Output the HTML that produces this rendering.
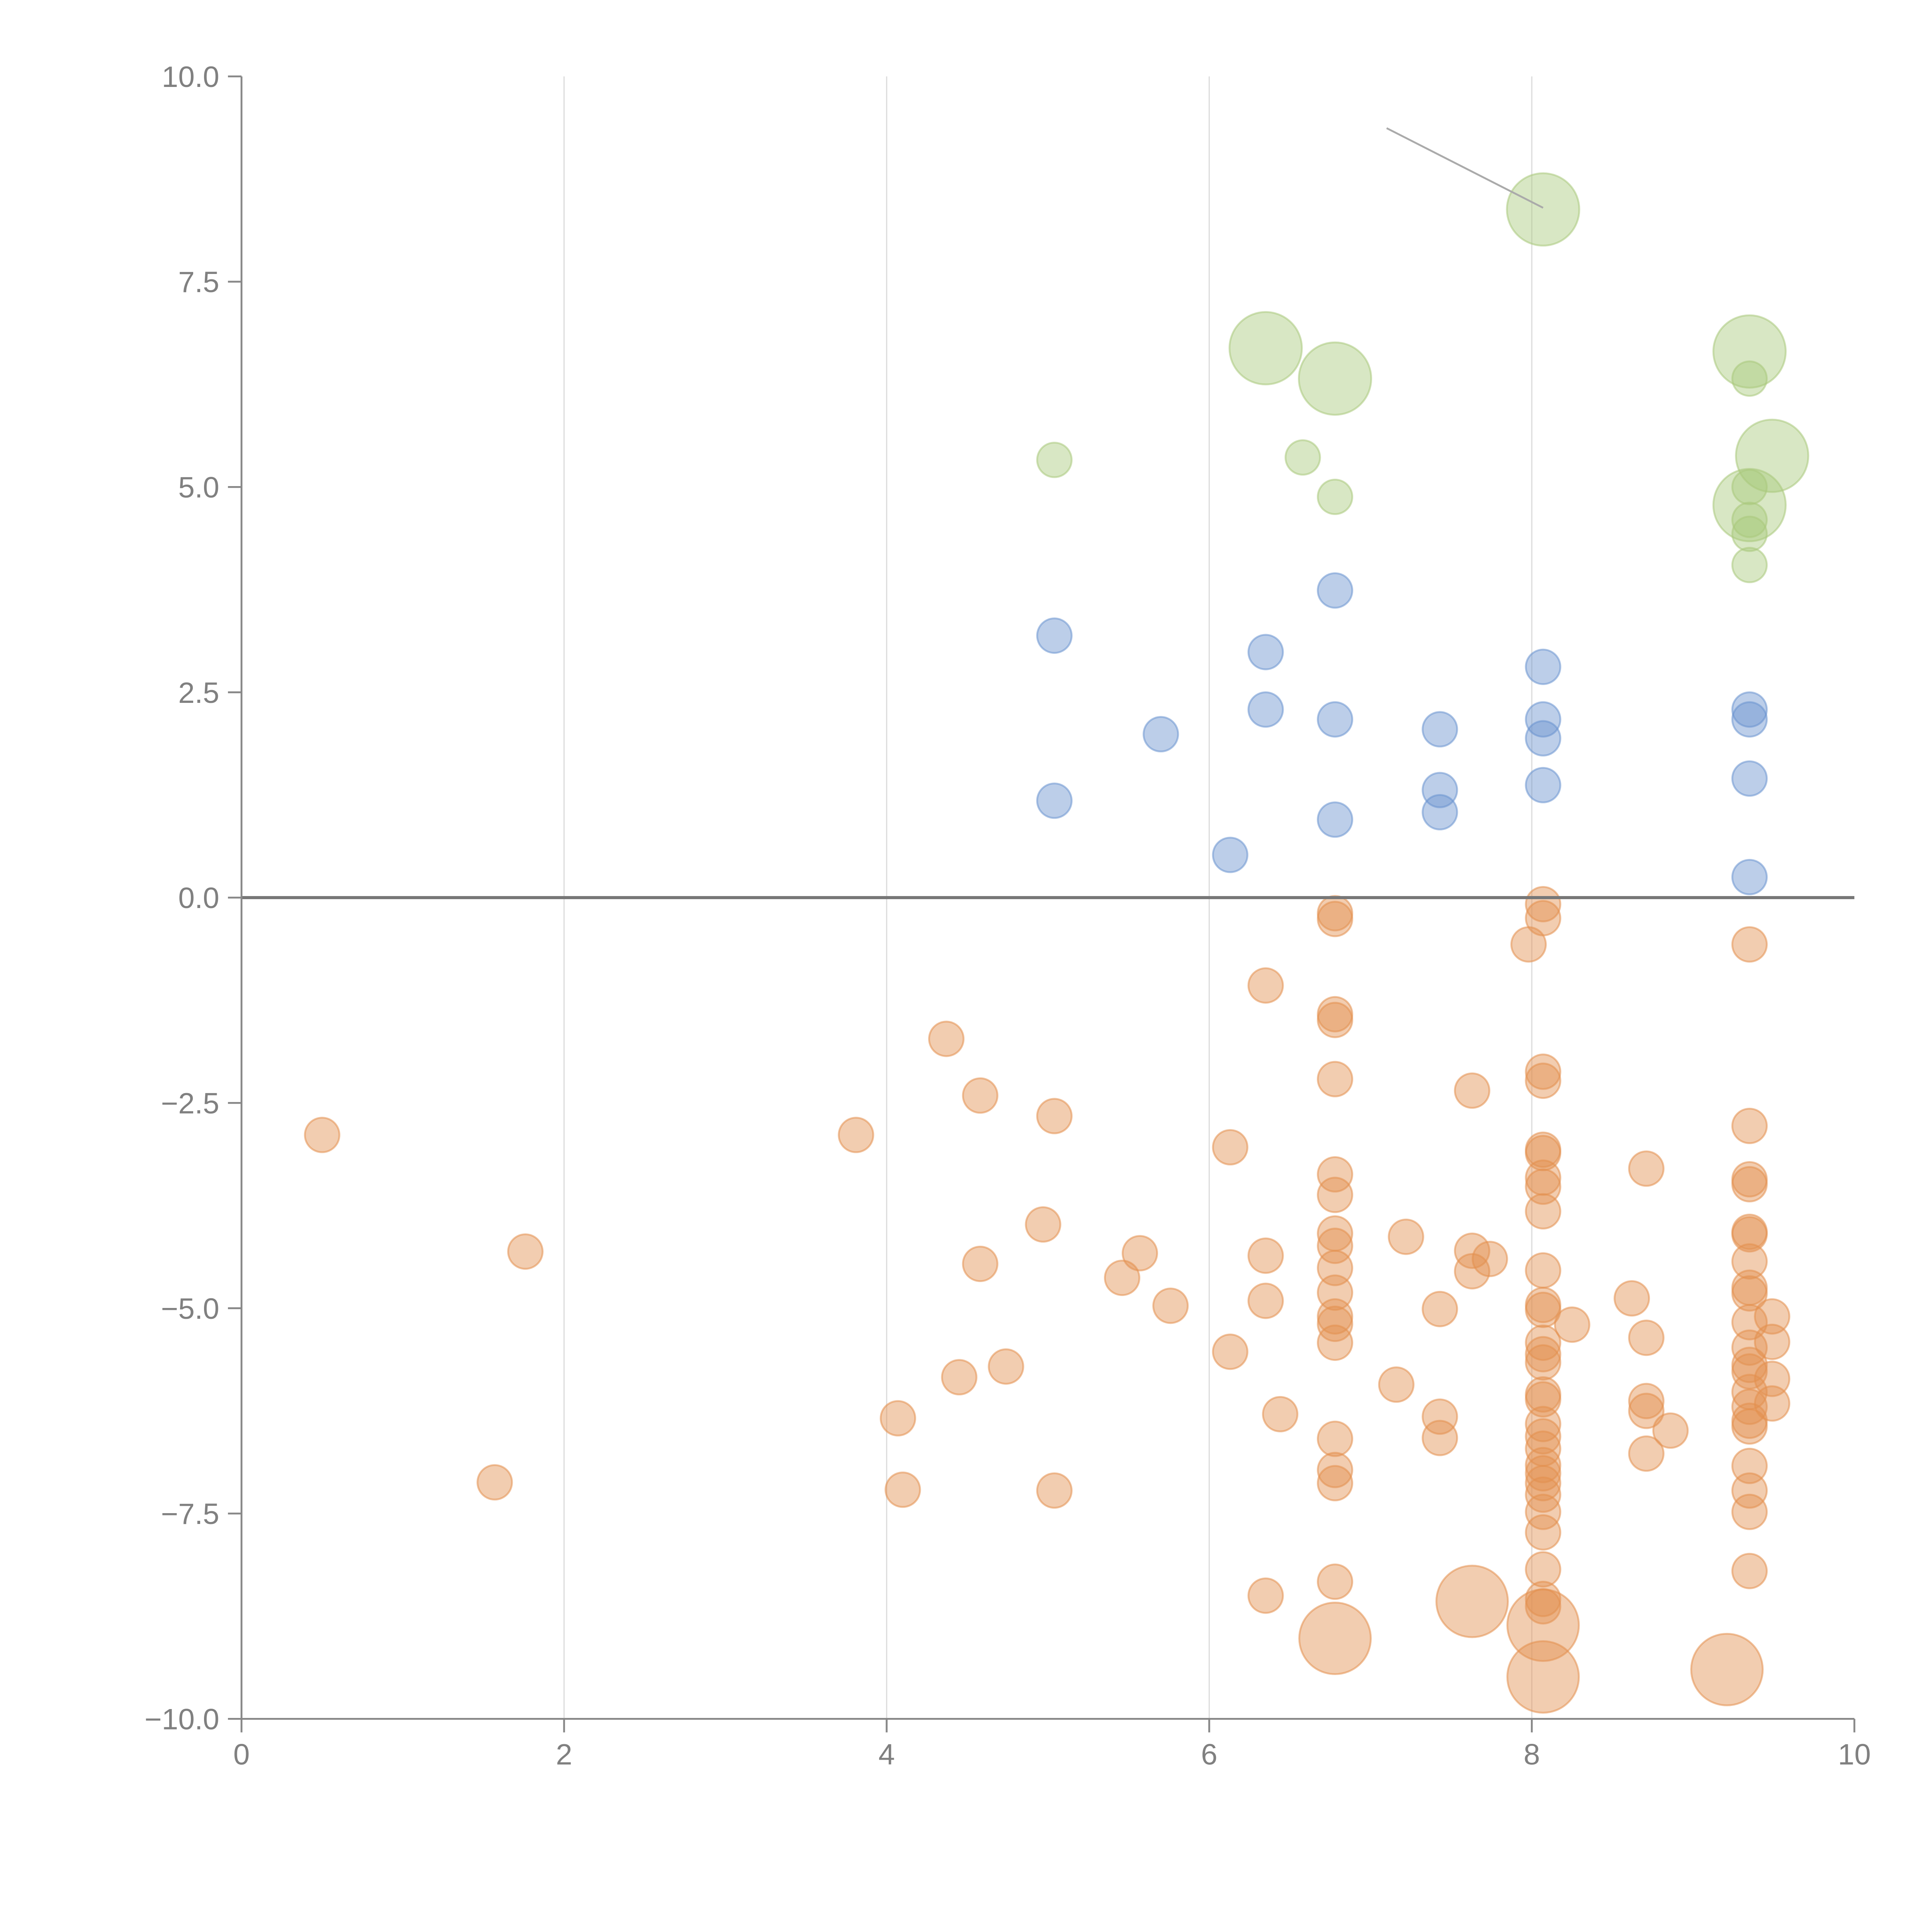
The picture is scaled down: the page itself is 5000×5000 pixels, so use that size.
<!DOCTYPE html>
<html><head><meta charset="utf-8"><style>html,body{margin:0;padding:0;background:#fff}svg{display:block}</style></head>
<body>
<svg id="chart" width="5000" height="5000" viewBox="0 0 1568 1568" xmlns="http://www.w3.org/2000/svg" font-family="Liberation Sans, sans-serif">
<g id="grid"></g>
<g id="marks"></g>
<g id="axes"></g>
</svg>
<script>
const xTicks = [0, 2, 4, 6, 8, 10];
const yTicks = [-10, -7.5, -5, -2.5, 0, 2.5, 5, 7.5, 10];
const yTickLabels = ["\u221210.0", "\u22127.5", "\u22125.0", "\u22122.5", "0.0", "2.5", "5.0", "7.5", "10.0"];

const greenX = [8.07, 6.35, 6.78, 9.35, 9.35, 9.49, 9.35, 9.35, 9.35, 9.35, 9.35, 5.04, 6.58, 6.78];
const greenY = [8.38, 6.69, 6.32, 6.65, 6.32, 5.38, 4.78, 5.0, 4.6, 4.43, 4.05, 5.33, 5.36, 4.88];
const greenS = [4.4, 4.4, 4.4, 4.4, 1, 4.4, 4.4, 1, 1, 1, 1, 1, 1, 1];

const blueX = [6.78, 5.04, 6.35, 8.07, 6.35, 6.78, 8.07, 9.35, 9.35, 5.70, 7.43, 8.07, 7.43, 7.43, 8.07, 9.35, 5.04, 6.78, 6.13, 9.35];
const blueY = [3.74, 3.19, 2.99, 2.81, 2.29, 2.17, 2.17, 2.29, 2.17, 1.99, 2.05, 1.94, 1.31, 1.04, 1.37, 1.45, 1.18, 0.95, 0.52, 0.25];

const orangeX = [
 6.78,6.78,6.78,6.78,6.78,6.78,6.78,6.78,6.78,6.78,6.78,6.78,6.78,6.78,6.78,6.78,6.78,6.78,6.78,
 8.07,8.07,8.07,8.07,8.07,8.07,8.07,8.07,8.07,8.07,8.07,8.07,8.07,8.07,8.07,8.07,8.07,8.07,8.07,8.07,8.07,8.07,8.07,8.07,8.07,8.07,8.07,8.07,8.07,8.07,8.07,
 7.98,
 9.35,9.35,9.35,9.35,9.35,9.35,9.35,9.35,9.35,9.35,9.35,9.35,9.35,9.35,9.35,9.35,9.35,9.35,9.35,9.35,9.35,
 9.49,9.49,9.49,9.49, 9.21, 7.63,
 6.35,6.35,6.35,6.35, 7.43,7.43,7.43, 7.63,7.63,7.63, 7.74,
 7.22,7.16,6.44,6.13,6.13,8.25,8.62,
 8.71,8.71,8.71,8.71,8.71,8.86,
 5.04,5.04,4.97,4.37,4.58,4.58,3.81,5.57,5.46,5.76,4.74,4.45,4.07,4.10,0.50,1.76,1.57];
const orangeY = [
 -0.19,-0.26,-1.42,-1.49,-2.21,-3.37,-3.62,-4.09,-4.24,-4.51,-4.81,-5.10,-5.19,-5.42,-6.59,-6.97,-7.13,-8.33,-9.02,
 -0.08,-0.25,-2.12,-2.23,-3.07,-3.11,-3.41,-3.52,-3.82,-4.54,-4.96,-5.02,-5.42,-5.56,-5.66,-6.05,-6.11,-6.41,-6.56,-6.71,-6.91,-7.01,-7.13,-7.27,-7.48,-7.73,-8.18,-8.54,-8.63,-8.86,-9.49,
 -0.57,
 -0.57,-2.78,-3.43,-3.49,-4.07,-4.10,-4.43,-4.75,-4.82,-5.17,-5.48,-5.69,-5.77,-6.02,-6.20,-6.37,-6.44,-6.92,-7.22,-7.48,-8.20,
 -5.10,-5.41,-5.86,-6.16, -9.40, -8.57,
 -1.07,-4.36,-4.91,-8.50, -5.01,-6.32,-6.58, -2.35,-4.30,-4.55, -4.40,
 -4.13,-5.93,-6.29,-3.04,-5.53,-5.20,-4.88,
 -3.30,-5.36,-6.13,-6.25,-6.77,-6.49,
 -2.66,-7.22,-3.98,-1.72,-2.41,-4.46,-2.89,-4.33,-4.63,-4.97,-5.71,-5.84,-6.34,-7.21,-2.89,-4.31,-7.12];
const orangeBig = [18, 48, 49, 76, 77];

const NS = "http://www.w3.org/2000/svg";
const X0 = 196, X1 = 1505, Y0 = 1395, Y1 = 62;
function sx(v){ return X0 + (v - 0) / 10 * (X1 - X0); }
function sy(v){ return Y0 - (v + 10) / 20 * (Y0 - Y1); }
function mk(tag, attrs, parent){ const e = document.createElementNS(NS, tag); for (const k in attrs) e.setAttribute(k, attrs[k]); parent.appendChild(e); return e; }

const grid = document.getElementById('grid');
const marks = document.getElementById('marks');
const axes = document.getElementById('axes');

xTicks.forEach(t => {
  if (t > 0 && t < 10) {
    const l = mk('line', {x1: sx(t), x2: sx(t), y1: Y1, y2: Y0, stroke: '#dddddd', 'stroke-width': 1}, grid);
    
    
  }
});

function drawSeries(xs, ys, sizeFn, fill, name){
  xs.forEach((x, i) => {
    const r = 14 * Math.sqrt(sizeFn(i));
    const c = mk('circle', {cx: sx(x), cy: sy(ys[i]), r: r, fill: fill, 'fill-opacity': 0.45, stroke: fill, 'stroke-opacity': 0.55, 'stroke-width': 1.5}, marks);
    
    
  });
}
drawSeries(orangeX, orangeY, i => orangeBig.includes(i) ? 4.3 : 1, '#e3904f', 'orange-point');
drawSeries(blueX, blueY, i => 1, '#6a93cf', 'blue-point');
drawSeries(greenX, greenY, i => greenS[i], '#a9c97c', 'green-point');

const conn = mk('line', {x1: sx(7.1), y1: sy(9.37), x2: sx(8.07), y2: sy(8.4), stroke: '#aaaaaa', 'stroke-width': 1.5}, marks);



const zl = mk('line', {x1: X0, x2: X1, y1: sy(0), y2: sy(0), stroke: '#777777', 'stroke-width': 2.5}, axes);



const ya = mk('line', {x1: X0, x2: X0, y1: Y1, y2: Y0, stroke: '#888888', 'stroke-width': 1.5}, axes);


const xa = mk('line', {x1: X0, x2: X1, y1: Y0, y2: Y0, stroke: '#888888', 'stroke-width': 1.5}, axes);



yTicks.forEach((t, i) => {
  const tk = mk('line', {x1: X0 - 11, x2: X0, y1: sy(t), y2: sy(t), stroke: '#888888', 'stroke-width': 1.5}, axes);
  
  
  const tx = mk('text', {x: X0 - 18, y: sy(t) + 8.5, 'text-anchor': 'end', 'font-size': 24, fill: '#808080'}, axes);
  tx.textContent = yTickLabels[i];
  
  
});
xTicks.forEach(t => {
  const tk = mk('line', {x1: sx(t), x2: sx(t), y1: Y0, y2: Y0 + 11, stroke: '#888888', 'stroke-width': 1.5}, axes);
  
  
  const tx = mk('text', {x: sx(t), y: Y0 + 37, 'text-anchor': 'middle', 'font-size': 24, fill: '#808080'}, axes);
  tx.textContent = String(t);
  
  
});
</script>
</body></html>
